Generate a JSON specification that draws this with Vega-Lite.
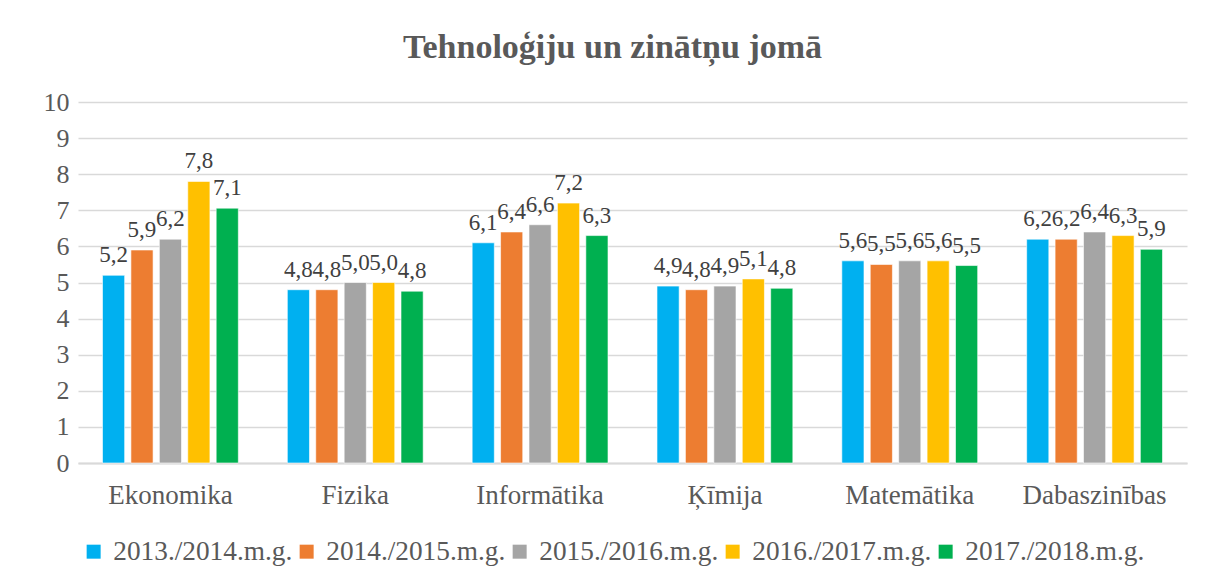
{
  "$schema": "https://vega.github.io/schema/vega-lite/v6.json",
  "width": 1109,
  "height": 361,
  "autosize": {"type": "none"},
  "padding": {"left": 78, "top": 102, "right": 21, "bottom": 123},
  "background": "white",
  "title": {
    "text": "Tehnoloģiju un zinātņu jomā",
    "font": "Liberation Serif",
    "fontSize": 34,
    "fontWeight": "bold",
    "color": "#595959",
    "anchor": "middle",
    "dx": -20,
    "offset": 24
  },
  "data": {
    "values": [
      {"category": "Ekonomika", "year": "2013./2014.m.g.", "value": 5.2},
      {"category": "Ekonomika", "year": "2014./2015.m.g.", "value": 5.9},
      {"category": "Ekonomika", "year": "2015./2016.m.g.", "value": 6.2},
      {"category": "Ekonomika", "year": "2016./2017.m.g.", "value": 7.8},
      {"category": "Ekonomika", "year": "2017./2018.m.g.", "value": 7.06},
      {"category": "Fizika", "year": "2013./2014.m.g.", "value": 4.8},
      {"category": "Fizika", "year": "2014./2015.m.g.", "value": 4.8},
      {"category": "Fizika", "year": "2015./2016.m.g.", "value": 5.0},
      {"category": "Fizika", "year": "2016./2017.m.g.", "value": 5.0},
      {"category": "Fizika", "year": "2017./2018.m.g.", "value": 4.76},
      {"category": "Informātika", "year": "2013./2014.m.g.", "value": 6.1},
      {"category": "Informātika", "year": "2014./2015.m.g.", "value": 6.4},
      {"category": "Informātika", "year": "2015./2016.m.g.", "value": 6.6},
      {"category": "Informātika", "year": "2016./2017.m.g.", "value": 7.2},
      {"category": "Informātika", "year": "2017./2018.m.g.", "value": 6.3},
      {"category": "Ķīmija", "year": "2013./2014.m.g.", "value": 4.9},
      {"category": "Ķīmija", "year": "2014./2015.m.g.", "value": 4.8},
      {"category": "Ķīmija", "year": "2015./2016.m.g.", "value": 4.9},
      {"category": "Ķīmija", "year": "2016./2017.m.g.", "value": 5.1},
      {"category": "Ķīmija", "year": "2017./2018.m.g.", "value": 4.84},
      {"category": "Matemātika", "year": "2013./2014.m.g.", "value": 5.6},
      {"category": "Matemātika", "year": "2014./2015.m.g.", "value": 5.5},
      {"category": "Matemātika", "year": "2015./2016.m.g.", "value": 5.6},
      {"category": "Matemātika", "year": "2016./2017.m.g.", "value": 5.6},
      {"category": "Matemātika", "year": "2017./2018.m.g.", "value": 5.47},
      {"category": "Dabaszinības", "year": "2013./2014.m.g.", "value": 6.2},
      {"category": "Dabaszinības", "year": "2014./2015.m.g.", "value": 6.2},
      {"category": "Dabaszinības", "year": "2015./2016.m.g.", "value": 6.4},
      {"category": "Dabaszinības", "year": "2016./2017.m.g.", "value": 6.3},
      {"category": "Dabaszinības", "year": "2017./2018.m.g.", "value": 5.92}
    ]
  },
  "encoding": {
    "x": {
      "field": "category",
      "type": "nominal",
      "sort": null,
      "scale": {"paddingInner": 0.265, "paddingOuter": 0.1325},
      "axis": {
        "title": null,
        "labelAngle": 0,
        "labelFont": "Liberation Serif",
        "labelFontSize": 27,
        "labelColor": "#595959",
        "labelPadding": 19,
        "ticks": false,
        "domainColor": "#D9D9D9",
        "domainWidth": 2
      }
    },
    "xOffset": {
      "field": "year",
      "type": "nominal",
      "sort": null,
      "scale": {"paddingInner": 0.22, "paddingOuter": 0}
    },
    "y": {
      "field": "value",
      "type": "quantitative",
      "scale": {"domain": [0, 10], "nice": false},
      "axis": {
        "title": null,
        "values": [0, 1, 2, 3, 4, 5, 6, 7, 8, 9, 10],
        "format": "d",
        "labelFont": "Liberation Serif",
        "labelFontSize": 26,
        "labelColor": "#595959",
        "labelPadding": 9,
        "ticks": false,
        "domain": false,
        "gridColor": "#D9D9D9",
        "gridWidth": 1.6
      }
    }
  },
  "layer": [
    {
      "mark": {"type": "bar", "stroke": "white", "strokeWidth": 0.6},
      "encoding": {
        "color": {
          "field": "year",
          "type": "nominal",
          "sort": null,
          "scale": {
            "domain": ["2013./2014.m.g.", "2014./2015.m.g.", "2015./2016.m.g.", "2016./2017.m.g.", "2017./2018.m.g."],
            "range": ["#00B0F0", "#ED7D31", "#A5A5A5", "#FFC000", "#00B050"]
          },
          "legend": {
            "title": null,
            "orient": "none",
            "direction": "horizontal",
            "legendX": 2,
            "legendY": 436,
            "padding": 0,
            "symbolType": "square",
            "symbolSize": 196,
            "symbolStrokeWidth": 0,
            "labelFont": "Liberation Serif",
            "labelFontSize": 27.3,
            "labelColor": "#595959",
            "labelOffset": 6,
            "columnPadding": 0,
            "labelLimit": 300
          }
        }
      }
    },
    {
      "mark": {
        "type": "text",
        "baseline": "bottom",
        "dy": -8,
        "font": "Liberation Serif",
        "fontSize": 23,
        "color": "#404040"
      },
      "encoding": {
        "text": {"field": "value", "type": "quantitative", "format": ".1f"}
      }
    }
  ],
  "config": {
    "locale": {
      "number": {"decimal": ",", "thousands": " ", "grouping": [3], "currency": ["", " €"]}
    },
    "view": {"stroke": null}
  }
}
